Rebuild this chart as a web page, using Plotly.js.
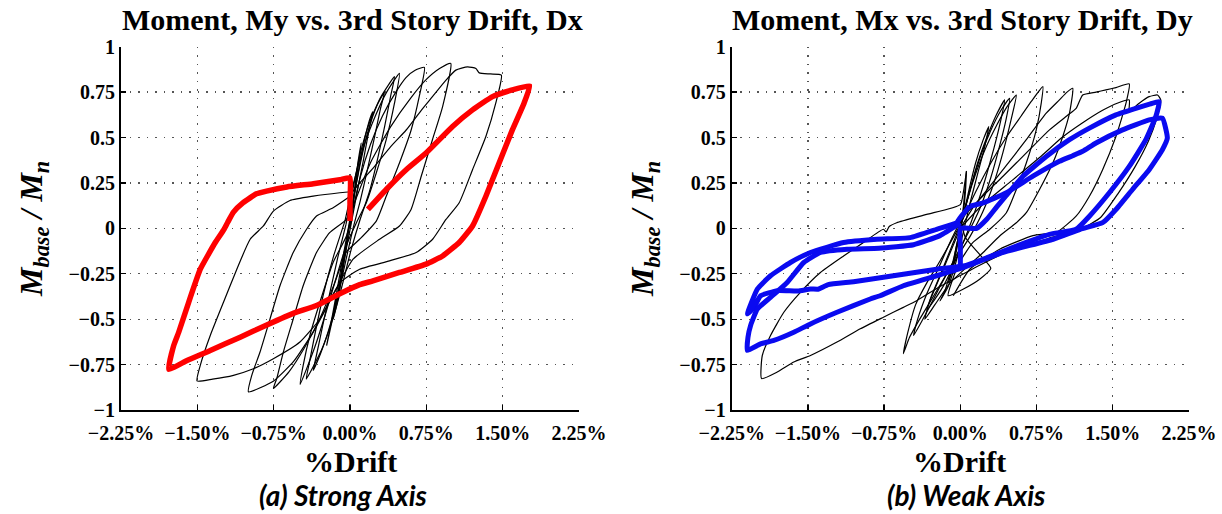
<!DOCTYPE html>
<html>
<head>
<meta charset="utf-8">
<script src="https://cdn.plot.ly/plotly-3.0.1.min.js"></script>
<style>html,body{margin:0;padding:0;background:#fff;}#chart{width:1222px;height:514px;}</style>
</head>
<body>
<div id="chart"></div>
<script>
// ---------- tick labels ----------
const xTickVals = [-2.25, -1.5, -0.75, 0, 0.75, 1.5, 2.25];
const xTickText = ['\u22122.25%', '\u22121.50%', '\u22120.75%', '0.00%', '0.75%', '1.50%', '2.25%'];
const yTickVals = [-1, -0.75, -0.5, -0.25, 0, 0.25, 0.5, 0.75, 1];
const yTickText = ['\u22121', '\u22120.75', '\u22120.5', '\u22120.25', '0', '0.25', '0.5', '0.75', '1'];

const titleStrong = 'Moment, My vs. 3rd Story Drift, Dx';
const titleWeak = 'Moment, Mx vs. 3rd Story Drift, Dy';
const captionStrong = '(a) Strong Axis';
const captionWeak = '(b) Weak Axis';

// ---------- strong axis (left): [%drift, Mbase/Mn] ----------
const strongBlack1 = [[0,0],[0.03,0.14],[0.07,0.3],[0.1,0.42],[0.11,0.47],[0.08,0.37],[0.04,0.2],[0,0.04],[-0.04,-0.12],[-0.09,-0.3],[-0.13,-0.42],[-0.166,-0.5],[-0.13,-0.4],[-0.08,-0.22],[-0.03,-0.06],[0.01,0.06]];
const strongBlack2 = [[0.01,0.06],[0.06,0.24],[0.11,0.4],[0.16,0.53],[0.2,0.61],[0.225,0.643],[0.19,0.55],[0.13,0.37],[0.07,0.2],[0.01,0.02],[-0.06,-0.18],[-0.12,-0.36],[-0.18,-0.52],[-0.23,-0.645],[-0.2,-0.56],[-0.14,-0.38],[-0.08,-0.19],[-0.02,-0.01]];
const strongBlack3 = [[-0.02,-0.01],[0.04,0.18],[0.11,0.38],[0.18,0.54],[0.26,0.67],[0.34,0.752],[0.3,0.66],[0.24,0.5],[0.17,0.32],[0.1,0.15],[0.03,0.0],[-0.05,-0.2],[-0.13,-0.4],[-0.21,-0.56],[-0.29,-0.69],[-0.362,-0.782],[-0.33,-0.7],[-0.27,-0.54],[-0.2,-0.36],[-0.12,-0.16],[-0.04,0.02]];
const strongBlack4 = [[-0.04,0.02],[0.03,0.22],[0.1,0.41],[0.19,0.58],[0.3,0.72],[0.437,0.835],[0.4,0.73],[0.34,0.56],[0.27,0.38],[0.19,0.2],[0.1,0.05],[0.01,-0.12],[-0.08,-0.32],[-0.17,-0.5],[-0.28,-0.67],[-0.43,-0.83],[-0.4,-0.74],[-0.34,-0.57],[-0.26,-0.36],[-0.16,-0.15],[-0.05,0.04]];
const strongBlack5 = [[-0.05,0.04],[0.04,0.26],[0.14,0.46],[0.25,0.62],[0.36,0.75],[0.486,0.853],[0.437,0.689],[0.356,0.488],[0.258,0.305],[0.16,0.141],[0.063,0.031],[-0.04,-0.1],[-0.14,-0.28],[-0.24,-0.47],[-0.35,-0.66],[-0.49,-0.859],[-0.46,-0.754],[-0.394,-0.59],[-0.296,-0.407],[-0.166,-0.188],[-0.035,-0.042],[0.02,0.08]];
const strongBlack6 = [[0.02,0.08],[0.1,0.28],[0.2,0.46],[0.32,0.62],[0.45,0.75],[0.55,0.83],[0.64,0.87],[0.731,0.886],[0.68,0.725],[0.6,0.54],[0.486,0.36],[0.356,0.177],[0.258,0.04],[0.095,-0.06],[-0.035,-0.13],[-0.15,-0.3],[-0.3,-0.5],[-0.45,-0.66],[-0.6,-0.79],[-0.753,-0.882],[-0.72,-0.827],[-0.655,-0.681],[-0.558,-0.499],[-0.46,-0.316],[-0.329,-0.133],[-0.2,-0.024],[-0.035,0.05],[0.05,0.15]];
const strongBlack7 = [[0.05,0.15],[0.2,0.36],[0.4,0.56],[0.6,0.72],[0.75,0.82],[0.88,0.88],[0.99,0.908],[0.91,0.67],[0.81,0.488],[0.7,0.287],[0.6,0.104],[0.486,0.013],[0.29,-0.06],[0.03,-0.17],[-0.15,-0.35],[-0.35,-0.56],[-0.55,-0.73],[-0.75,-0.84],[-0.998,-0.9],[-0.965,-0.809],[-0.884,-0.681],[-0.786,-0.499],[-0.688,-0.316],[-0.558,-0.133],[-0.427,-0.005],[-0.329,0.068],[-0.166,0.113],[-0.02,0.168]];
const strongBlack8 = [[-0.02,0.168],[0.08,0.24],[0.225,0.33],[0.4,0.45],[0.55,0.54],[0.7,0.65],[0.81,0.725],[0.943,0.816],[1.04,0.871],[1.155,0.889],[1.237,0.88],[1.27,0.856],[1.38,0.85],[1.487,0.844],[1.432,0.689],[1.335,0.506],[1.204,0.323],[1.073,0.141],[0.943,0.049],[0.812,-0.06],[0.65,-0.133],[0.388,-0.179],[0.095,-0.225],[-0.1,-0.3],[-0.296,-0.499],[-0.492,-0.626],[-0.753,-0.718],[-0.949,-0.773],[-1.145,-0.809],[-1.35,-0.83],[-1.503,-0.84],[-1.471,-0.754],[-1.373,-0.59],[-1.243,-0.407],[-1.112,-0.225],[-0.981,-0.06],[-0.851,0.013],[-0.753,0.095],[-0.59,0.153],[-0.362,0.177],[-0.1,0.196],[-0.02,0.2]];
const strongRed = [[0,0.04],[0,0.15],[0,0.278],[-0.1,0.268],[-0.36,0.246],[-0.62,0.228],[-0.82,0.205],[-0.92,0.19],[-1.05,0.141],[-1.145,0.089],[-1.2,0.035],[-1.243,-0.01],[-1.324,-0.078],[-1.471,-0.225],[-1.585,-0.407],[-1.683,-0.572],[-1.732,-0.645],[-1.781,-0.776],[-1.601,-0.727],[-1.373,-0.672],[-1.079,-0.599],[-0.818,-0.532],[-0.558,-0.468],[-0.329,-0.425],[-0.1,-0.36],[0.095,-0.31],[0.225,-0.289],[0.486,-0.243],[0.747,-0.197],[0.91,-0.152],[1.073,-0.078],[1.204,0.013],[1.335,0.177],[1.465,0.36],[1.595,0.542],[1.71,0.689],[1.765,0.784],[1.595,0.762],[1.4,0.725],[1.204,0.652],[1.008,0.561],[0.747,0.415],[0.552,0.323],[0.356,0.214],[0.176,0.104]];

// ---------- weak axis (right): [%drift, Mbase/Mn] ----------
const weakBlack1 = [[0,0],[0.03,0.12],[0.06,0.314],[0.05,0.2],[0.02,0.05],[-0.04,-0.1],[-0.08,-0.22],[-0.12,-0.3],[-0.09,-0.25],[-0.03,-0.1],[0.01,0.02]];
const weakBlack2 = [[0.01,0.02],[0.08,0.2],[0.15,0.36],[0.22,0.48],[0.28,0.56],[0.24,0.45],[0.17,0.3],[0.1,0.15],[0.03,-0.02],[-0.05,-0.2],[-0.12,-0.32],[-0.2,-0.4],[-0.15,-0.34],[-0.08,-0.2],[0,0]];
const weakBlack3 = [[0,0],[0.08,0.18],[0.17,0.36],[0.26,0.5],[0.35,0.62],[0.436,0.707],[0.4,0.6],[0.33,0.44],[0.25,0.28],[0.16,0.12],[0.07,-0.02],[-0.05,-0.18],[-0.15,-0.3],[-0.25,-0.39],[-0.33,-0.45],[-0.29,-0.38],[-0.2,-0.26],[-0.1,-0.12],[0,0.02]];
const weakBlack4 = [[0,0.02],[0.1,0.22],[0.2,0.4],[0.3,0.54],[0.4,0.65],[0.485,0.716],[0.45,0.6],[0.38,0.44],[0.3,0.28],[0.2,0.12],[0.1,0],[-0.05,-0.16],[-0.2,-0.32],[-0.33,-0.46],[-0.46,-0.59],[-0.42,-0.5],[-0.33,-0.36],[-0.2,-0.2],[-0.08,-0.05],[0.02,0.06]];
const weakBlack5 = [[0.02,0.06],[0.12,0.25],[0.24,0.43],[0.36,0.57],[0.46,0.67],[0.551,0.734],[0.5,0.6],[0.42,0.42],[0.33,0.25],[0.22,0.09],[0.1,-0.04],[-0.08,-0.2],[-0.25,-0.36],[-0.4,-0.5],[-0.5,-0.6],[-0.561,-0.69],[-0.52,-0.58],[-0.44,-0.42],[-0.33,-0.3],[-0.2,-0.18],[-0.1,-0.08],[0,0.02]];
const weakBlack6 = [[0,0.02],[0.15,0.2],[0.3,0.36],[0.45,0.5],[0.6,0.62],[0.7,0.7],[0.812,0.78],[0.796,0.689],[0.747,0.542],[0.649,0.36],[0.551,0.214],[0.453,0.086],[0.29,-0.005],[0.12,-0.08],[-0.02,-0.2],[-0.12,-0.371],[0.03,-0.334],[0.19,-0.28],[0.3,-0.22],[0.2,-0.15],[0.05,-0.05],[0,0.05]];
const weakBlack7 = [[0,0.05],[0.159,0.141],[0.42,0.323],[0.649,0.488],[0.845,0.634],[0.975,0.707],[1.05,0.75],[1.106,0.771],[1.074,0.634],[1.008,0.506],[0.91,0.36],[0.779,0.214],[0.649,0.086],[0.551,0.031],[0.387,-0.042],[0.224,-0.133],[0.05,-0.22],[-0.1,-0.3],[-0.25,-0.42],[-0.35,-0.5],[-0.3,-0.4],[-0.15,-0.2],[0,0]];
const weakBlack8 = [[0,0],[0.159,0.141],[0.42,0.287],[0.681,0.433],[0.877,0.542],[1.05,0.62],[1.139,0.66],[1.204,0.734],[1.335,0.75],[1.433,0.762],[1.531,0.775],[1.662,0.795],[1.63,0.689],[1.531,0.506],[1.4,0.323],[1.27,0.177],[1.139,0.067],[0.95,-0.02],[0.714,-0.04],[0.387,-0.115],[0.093,-0.225],[-0.07,-0.371]];
const weakBlack9 = [[0,0],[0.2,0.12],[0.5,0.26],[0.8,0.4],[1,0.5],[1.2,0.58],[1.4,0.65],[1.55,0.69],[1.662,0.707],[1.66,0.64],[1.7,0.66],[1.76,0.689],[1.858,0.725],[1.94,0.734],[1.972,0.707],[1.93,0.6],[1.85,0.48],[1.72,0.34],[1.55,0.19],[1.38,0.06],[1.2,0],[0.9,-0.05],[0.5,-0.12],[0.2,-0.2],[0,-0.26],[-0.2,-0.32],[-0.43,-0.398],[-0.561,-0.435],[-0.757,-0.489],[-0.985,-0.553],[-1.214,-0.626],[-1.475,-0.7],[-1.639,-0.736],[-1.802,-0.791],[-1.956,-0.827],[-1.949,-0.7],[-1.868,-0.59],[-1.737,-0.462],[-1.574,-0.352],[-1.377,-0.243],[-1.149,-0.152],[-0.953,-0.078],[-0.757,-0.005],[-0.73,-0.02],[-0.7,0.01],[-0.626,0.031],[-0.331,0.077],[0,0.131],[0.03,0.2],[0.06,0.314]];
const weakBlueA = [[0,-0.22],[0,-0.1],[0,0],[0.16,0],[0.26,0.05],[0.36,0.12],[0.45,0.18],[0.616,0.287],[0.845,0.396],[1.074,0.488],[1.27,0.552],[1.531,0.625],[1.727,0.661],[1.87,0.685],[1.956,0.698],[1.923,0.615],[1.825,0.488],[1.662,0.341],[1.466,0.196],[1.27,0.067],[1.139,-0.005],[0.877,-0.033],[0.551,-0.097],[0.224,-0.17],[0.03,-0.207],[-0.233,-0.225],[-0.659,-0.261],[-1.051,-0.294],[-1.3,-0.31],[-1.4,-0.335],[-1.475,-0.334],[-1.6,-0.345],[-1.8,-0.343],[-1.966,-0.371],[-2.03,-0.435],[-2.096,-0.471],[-1.998,-0.334],[-1.868,-0.261],[-1.672,-0.188],[-1.475,-0.133],[-1.149,-0.078],[-0.822,-0.06],[-0.495,-0.051],[-0.233,-0.005],[-0.037,0.031],[0,0.06],[0.093,0.122]];
const weakBlueB = [[0.093,0.122],[0.224,0.14],[0.453,0.196],[0.714,0.287],[0.975,0.369],[1.106,0.4],[1.204,0.424],[1.335,0.47],[1.596,0.542],[1.858,0.597],[1.988,0.607],[2.037,0.497],[1.988,0.433],[1.858,0.323],[1.694,0.214],[1.531,0.104],[1.4,0.031],[1.18,-0.005],[0.913,-0.06],[0.414,-0.133],[0.03,-0.215],[-0.233,-0.261],[-0.561,-0.316],[-0.79,-0.371],[-0.887,-0.389],[-1.214,-0.462],[-1.475,-0.526],[-1.639,-0.572],[-1.835,-0.617],[-1.966,-0.636],[-2.096,-0.672],[-2.09,-0.6],[-2.064,-0.535],[-1.998,-0.444],[-1.868,-0.38],[-1.704,-0.298],[-1.541,-0.188],[-1.377,-0.133],[-1.115,-0.115],[-0.8,-0.11],[-0.46,-0.09],[-0.2,-0.04],[0,0.03]];

// ---------- build traces ----------
function seg(points, xa, ya, color, width, smooth) {
  return {
    x: points.map(p => p[0]), y: points.map(p => p[1]),
    xaxis: xa, yaxis: ya, mode: 'lines', hoverinfo: 'skip',
    line: {color: color, width: width, shape: 'spline', smoothing: smooth}
  };
}
const traces = [];
[strongBlack1, strongBlack2, strongBlack3, strongBlack4, strongBlack5, strongBlack6, strongBlack7, strongBlack8]
  .forEach(s => traces.push(seg(s, 'x', 'y', '#000000', 1.2, 0.5)));
traces.push(seg(strongRed, 'x', 'y', '#ff0000', 5.5, 0.4));
[weakBlack1, weakBlack2, weakBlack3, weakBlack4, weakBlack5, weakBlack6, weakBlack7, weakBlack8, weakBlack9]
  .forEach(s => traces.push(seg(s, 'x2', 'y2', '#000000', 1.2, 0.5)));
traces.push(seg(weakBlueA, 'x2', 'y2', '#0a0af0', 5, 0.4));
traces.push(seg(weakBlueB, 'x2', 'y2', '#0a0af0', 5, 0.4));

const W = 1222, H = 514;
const tickFont = {family: 'Liberation Serif', size: 20, color: '#000', weight: 'bold'};
function xAxis(d, anchor) {
  return {domain: d, anchor: anchor, range: [-2.25, 2.25], tickmode: 'array', tickvals: xTickVals, ticktext: xTickText,
    showgrid: true, gridcolor: '#555', griddash: '1.5px,7px', gridwidth: 1.3, zeroline: false,
    showline: true, linecolor: '#000', linewidth: 2, ticks: 'inside', ticklen: 5, tickcolor: '#000', tickwidth: 1.3,
    tickfont: tickFont, ticklabelstandoff: 4, fixedrange: true};
}
function yAxis(anchor) {
  return {domain: [(H - 410) / H, (H - 46.7) / H], anchor: anchor, range: [-1, 1], tickmode: 'array', tickvals: yTickVals, ticktext: yTickText,
    showgrid: true, gridcolor: '#555', griddash: '1.5px,7px', gridwidth: 1.3, zeroline: false,
    showline: true, linecolor: '#000', linewidth: 2, ticks: 'inside', ticklen: 5, tickcolor: '#000', tickwidth: 1.3,
    tickfont: tickFont, ticklabelstandoff: 0, fixedrange: true};
}
const serifBold = (s) => ({family: 'Liberation Serif', size: s, color: '#000', weight: 'bold'});
const yLabel = '<b><i>M<sub>base</sub> / M<sub>n</sub></i></b>';
function ann(text, xpx, ypx, font, angle) {
  return {text: text, xref: 'paper', yref: 'paper', x: xpx / W, y: 1 - ypx / H, xanchor: 'center', yanchor: 'middle',
    showarrow: false, font: font, textangle: angle || 0};
}
const capFont = {family: 'Lato', size: 28, color: '#000', weight: 'bold', style: 'italic'};
const layout = {
  width: W, height: H, margin: {l: 0, r: 0, t: 0, b: 0},
  paper_bgcolor: '#fff', plot_bgcolor: '#fff', showlegend: false,
  xaxis: xAxis([121 / W, 579 / W], 'y'),
  yaxis: yAxis('x'),
  xaxis2: xAxis([731.7 / W, 1189 / W], 'y2'),
  yaxis2: yAxis('x2'),
  annotations: [
    ann('<b>' + titleStrong + '</b>', 352, 20, serifBold(30)),
    ann('<b>' + titleWeak + '</b>', 962, 20, serifBold(30)),
    ann('<b>%Drift</b>', 350, 461, serifBold(30)),
    ann('<b>%Drift</b>', 960, 461, serifBold(30)),
    ann(yLabel, 34, 229, {family: 'Liberation Serif', size: 32, color: '#000'}, -90),
    ann(yLabel, 645, 229, {family: 'Liberation Serif', size: 32, color: '#000'}, -90),
    ann(captionStrong, 343, 495, capFont),
    ann(captionWeak, 966, 495, capFont)
  ]
};
Plotly.newPlot('chart', traces, layout, {staticPlot: true, displayModeBar: false});
</script>
</body>
</html>
